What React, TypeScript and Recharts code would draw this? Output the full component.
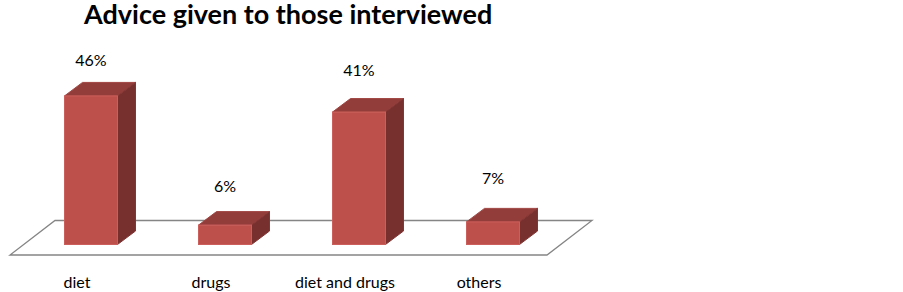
import React from 'react';
import { BarChart, Bar, XAxis, YAxis, LabelList, usePlotArea } from 'recharts';

const categories = ['diet', 'drugs', 'diet and drugs', 'others'];
const percents = [46, 6, 41, 7];

const data = categories.map((name, i) => ({ name, value: percents[i] }));

const FONT = 'Lato, Carlito, sans-serif';

// fake 3D: depth of the box and how far the front face sits from the band centre
const DEPTH_X = 18;
const DEPTH_Y = 13.5;
const SHIFT_X = 13.5;
const LABEL_LIFT = [30, 33, 36, 38];

function Floor() {
  const plot = usePlotArea();
  if (!plot) return null;
  const left = plot.x;
  const right = plot.x + plot.width + 1;
  const front = plot.y + plot.height + 10.5;
  const back = plot.y + plot.height - 24;
  return (
    <polygon
      points={`${left},${front} ${right},${front} ${right + 45},${back} ${left + 45},${back}`}
      fill="#fff"
      stroke="#858585"
      strokeWidth={1.3}
    />
  );
}

function Box3D(props: any) {
  const { x, y, width, height } = props;
  const l = x + SHIFT_X;
  const r = l + width;
  const b = y + height;
  return (
    <g strokeWidth={1}>
      <polygon
        points={`${l},${y} ${r},${y} ${r + DEPTH_X},${y - DEPTH_Y} ${l + DEPTH_X},${y - DEPTH_Y}`}
        fill="#933d3a"
        stroke="#a04542"
      />
      <polygon
        points={`${r},${y} ${r + DEPTH_X},${y - DEPTH_Y} ${r + DEPTH_X},${b - DEPTH_Y} ${r},${b}`}
        fill="#78302e"
        stroke="#843634"
      />
      <rect x={l} y={y} width={width} height={height} fill="#be504c" stroke="#cc5f5b" />
    </g>
  );
}

function PercentLabel(props: any) {
  const { x, y, width, value, index } = props;
  return (
    <text
      x={x + width / 2 + SHIFT_X}
      y={y - LABEL_LIFT[index]}
      textAnchor="middle"
      fontFamily={FONT}
      fontSize={16}
      fill="#000"
    >
      {value}%
    </text>
  );
}

export default function App() {
  return (
    <div style={{ position: 'absolute', left: 0, top: 0, width: 903, height: 292, background: '#fff' }}>
      <BarChart
        width={903}
        height={292}
        data={data}
        margin={{ top: 83, right: 357, bottom: 0, left: 10 }}
        barCategoryGap={0}
      >
        <text x={84} y={24} fontFamily={FONT} fontWeight={700} fontSize={27} fill="#000">
          Advice given to those interviewed
        </text>
        <Floor />
        <XAxis
          dataKey="name"
          axisLine={false}
          tickLine={false}
          height={47.5}
          tickMargin={26}
          tick={{ fontFamily: FONT, fontSize: 16, fill: '#000' }}
          interval={0}
        />
        <YAxis hide domain={[0, 50]} />
        <Bar dataKey="value" barSize={53} shape={<Box3D />} isAnimationActive={false}>
          <LabelList dataKey="value" content={<PercentLabel />} />
        </Bar>
      </BarChart>
    </div>
  );
}
